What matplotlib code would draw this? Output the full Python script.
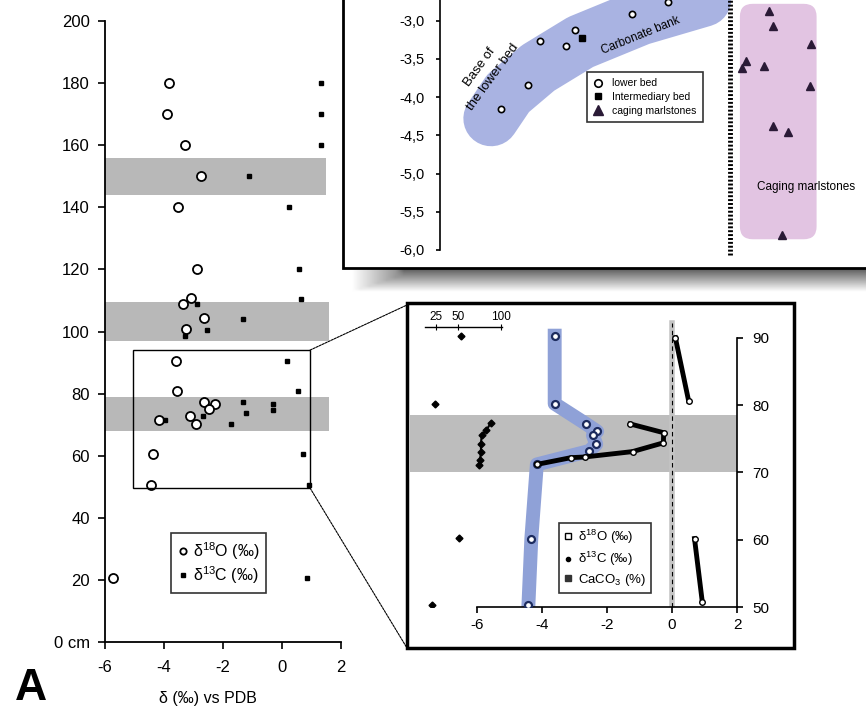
import numpy as np
import matplotlib.pyplot as plt
from matplotlib.patches import Rectangle, FancyBboxPatch, ConnectionPatch, PathPatch
from matplotlib.path import Path
from matplotlib.lines import Line2D

plt.rcParams['font.family'] = ['Liberation Sans', 'DejaVu Sans']
plt.rcParams['mathtext.fontset'] = 'custom'
plt.rcParams['mathtext.rm'] = 'Liberation Sans'
plt.rcParams['mathtext.it'] = 'Liberation Sans:italic'

W, H = 866, 713

# ---- panel A: whole profile ----
o18_depth = [180, 170, 160, 150, 140, 120, 110.8, 108.8, 104.3, 100.8, 90.6, 80.8,
             77.2, 76.6, 75.0, 72.8, 70.2, 71.5, 60.4, 50.6, 20.6]
o18_val = [-3.82, -3.89, -3.29, -2.75, -3.54, -2.87, -3.10, -3.37, -2.66, -3.25, -3.60, -3.55,
           -2.64, -2.27, -2.46, -3.12, -2.92, -4.16, -4.36, -4.44, -5.74]
c13_depth = [180, 170, 160, 150, 140, 120, 110.5, 108.8, 104.0, 100.6, 98.6, 90.6, 80.8,
             77.4, 73.6, 76.6, 74.8, 72.8, 70.2, 71.5, 60.4, 50.6, 20.6]
c13_val = [1.32, 1.32, 1.32, -1.11, 0.25, 0.59, 0.66, -2.87, -1.31, -2.54, -3.28, 0.18, 0.55,
           -1.32, -1.22, -0.29, -0.30, -2.67, -1.72, -3.95, 0.72, 0.93, 0.86]
band_lo = [144, 97, 68]
band_hi = [156, 109.5, 79]
band_right = [1.5, 1.6, 1.6]
zoom_box = (-5.05, 49.6, 0.95, 94.0)  # x0, y0, x1, y1

# ---- upper inset: d18O vs position ----
lower_x = [1.43, 2.07, 2.35, 2.95, 3.17, 4.51, 5.36]
lower_y = [-4.16, -3.84, -3.27, -3.33, -3.12, -2.91, -2.76]
inter_x = [3.33]
inter_y = [-3.23]
cag_x = [7.73, 7.81, 8.70, 7.18, 7.10, 7.61, 8.69, 7.81, 8.16, 8.02]
cag_y = [-2.87, -3.07, -3.30, -3.53, -3.62, -3.59, -3.85, -4.38, -4.46, -5.80]
trend_x = [1.2, 1.6, 2.3, 3.3, 4.7, 6.9]
trend_y = [-4.28, -3.95, -3.62, -3.28, -2.96, -2.60]
boundary_x = 6.81
cag_zone = (7.04, -5.86, 8.84, -2.78)

# ---- lower inset: 50-90 cm detail ----
o18z_depth = [90.3, 80.2, 77.2, 76.1, 75.5, 74.2, 73.2, 71.2, 60.2, 50.3]
o18z_val = [-3.62, -3.62, -2.65, -2.31, -2.44, -2.34, -2.55, -4.17, -4.34, -4.43]
c13z_depth = [90.0, 80.6, np.nan, 77.2, 75.9, 74.4, 73.1, 72.3, 72.2, 71.2, np.nan, 60.2, 50.8]
c13z_val = [0.10, 0.51, np.nan, -1.29, -0.26, -0.27, -1.22, -2.70, -3.12, -4.17, np.nan, 0.69, 0.93]
caco3_depth = [90.2, 80.2, 77.3, 76.3, 75.5, 74.3, 73.1, 71.8, 71.1, 60.3, 50.3]
caco3_val = [53, 23, 88, 83, 77.5, 76.7, 76.7, 75.6, 74.8, 51.5, 19.4]
bandz = (70.0, 78.5)


def px_box(x0, y0, x1, y1):
    return [x0 / W, 1 - y1 / H, (x1 - x0) / W, (y1 - y0) / H]


fig = plt.figure(figsize=(8.66, 7.13), dpi=100)

# overlay in pixel units for frames and shadows
ov = fig.add_axes([0, 0, 1, 1], zorder=0)
ov.set_xlim(0, W)
ov.set_ylim(H, 0)
ov.axis('off')
shade = np.linspace(0.35, 1.0, 30)[:, None] * np.ones((1, 60))
shade[:, :6] = np.maximum(shade[:, :6], np.linspace(1.0, 0.6, 6)[None, :])
ov.imshow(shade, extent=[348, 866, 292, 268], cmap='gray', vmin=0, vmax=1,
          aspect='auto', interpolation='bilinear', zorder=0)
ov.add_patch(Rectangle((343, -10), 600, 278, facecolor='white', edgecolor='black', lw=2, zorder=1))
ov.add_patch(Rectangle((407, 303), 387, 345, facecolor='white', edgecolor='black', lw=2.5, zorder=1))

# ---- panel A ----
ax = fig.add_axes(px_box(105, 21, 341, 642), zorder=2)
ax.set_facecolor('none')
ax.set_xlim(-6, 2)
ax.set_ylim(0, 200)
for lo, hi, xr in zip(band_lo, band_hi, band_right):
    ax.fill_between([-6, xr], lo, hi, color='#b8b8b8', lw=0, zorder=0)
ax.plot(o18_val, o18_depth, 'o', ms=6.5, mfc='white', mec='black', mew=1.3, ls='none',
        label='δ$^{18}$O (‰)', zorder=3)
ax.plot(c13_val, c13_depth, 's', ms=3.5, color='black', ls='none',
        label='δ$^{13}$C (‰)', zorder=4)
ax.add_patch(Rectangle((zoom_box[0], zoom_box[1]), zoom_box[2] - zoom_box[0],
                       zoom_box[3] - zoom_box[1], fill=False, ec='black', lw=1, zorder=5))
for s in ['top', 'right']:
    ax.spines[s].set_visible(False)
ax.spines['left'].set_linewidth(1.3)
ax.spines['bottom'].set_linewidth(1.3)
ax.set_xticks([-6, -4, -2, 0, 2])
ax.set_xticklabels(['-6', '-4', '-2', '0', '2'])
ax.set_yticks(range(0, 201, 20))
ax.set_yticklabels(['0 cm'] + [str(v) for v in range(20, 201, 20)])
ax.tick_params(axis='both', labelsize=12, length=5, width=1.2)
ax.tick_params(axis='x', pad=8)
ax.tick_params(axis='y', pad=6)
leg = ax.legend(loc='lower left', bbox_to_anchor=(0.28, 0.079), fontsize=11.5, frameon=True,
                fancybox=False, edgecolor='black', handlelength=0.6, handletextpad=0.3,
                borderpad=0.45, labelspacing=0.15, markerscale=0.7, borderaxespad=0)
leg.get_frame().set_linewidth(1.2)
fig.text(208 / W, 1 - 698 / H, 'δ (‰) vs PDB', ha='center', va='center', fontsize=11.5)
fig.text(31 / W, 1 - 688 / H, 'A', ha='center', va='center', fontsize=32, fontweight='bold')

# ---- upper inset ----
at = fig.add_axes(px_box(440, 0, 866, 268), zorder=2)
at.set_facecolor('none')
at.set_xlim(0, 10)
at.set_ylim(-6.236, -2.73)
verts = list(zip(trend_x, trend_y))
codes = [Path.MOVETO] + [Path.LINETO] * (len(verts) - 1)
at.add_patch(PathPatch(Path(verts, codes), fill=False, ec='#a9b3e2', lw=40,
                       capstyle='round', joinstyle='round', zorder=1))
at.add_patch(FancyBboxPatch((cag_zone[0], cag_zone[1]), cag_zone[2] - cag_zone[0],
                            cag_zone[3] - cag_zone[1],
                            boxstyle='round,pad=0,rounding_size=0.3', mutation_aspect=0.55,
                            fc='#e2c4e2', ec='none', zorder=1))
at.plot([boundary_x, boundary_x], [-6.07, -2.73], color='black', lw=3.5,
        dashes=(0.4, 0.4), zorder=2)
at.plot(lower_x, lower_y, 'o', ms=4.5, mfc='white', mec='black', mew=1.2, ls='none',
        label='lower bed', zorder=3)
at.plot(inter_x, inter_y, 's', ms=4, color='black', ls='none', label='Intermediary bed', zorder=3)
at.plot(cag_x, cag_y, '^', ms=5.5, color='#2a1a36', ls='none', label='caging marlstones', zorder=3)
for s in ['top', 'right', 'bottom']:
    at.spines[s].set_visible(False)
at.spines['left'].set_bounds(-6.0, -2.73)
at.spines['left'].set_linewidth(1.2)
at.set_xticks([])
yt = [-6.0, -5.5, -5.0, -4.5, -4.0, -3.5, -3.0]
at.set_yticks(yt)
at.set_yticklabels([f'{v:.1f}'.replace('.', ',') for v in yt])
at.tick_params(axis='y', labelsize=10.5, length=3, width=1.2, pad=8)
at.text(1.08, -3.67, 'Base of\nthe lower bed', rotation=54, ha='center', va='center',
        fontsize=9.5, linespacing=1.5, rotation_mode='anchor')
at.text(4.72, -3.19, 'Carbonate bank', rotation=22, ha='center', va='center', fontsize=8.5,
        rotation_mode='anchor')
at.text(7.43, -5.17, 'Caging marlstones', ha='left', va='center', fontsize=8.5)
lt = at.legend(loc='lower left', bbox_to_anchor=(0.345, 0.545), fontsize=7.5, frameon=True,
               fancybox=False, edgecolor='black', handlelength=1.0, handletextpad=0.8,
               borderpad=0.6, labelspacing=0.35, borderaxespad=0, markerscale=1.2)
lt.get_frame().set_linewidth(1.2)

# ---- lower inset ----
ab = fig.add_axes(px_box(410, 305, 737, 607.3), zorder=2)
ab.set_facecolor('none')
ab.set_xlim(-8.08, 2.0)
ab.set_ylim(50, 94.85)
ab.fill_between([-8.08, 2.0], bandz[0], bandz[1], color='#bdbdbd', lw=0, zorder=0)
ab.axvline(0, ymin=-0.02, ymax=(92.2 - 50) / 44.85, color='#c4c4c4', lw=4, zorder=1)
ab.axvline(0, ymin=0, ymax=(92.2 - 50) / 44.85, color='black', lw=0.8, dashes=(4, 3), zorder=1)
ab.plot(o18z_val, o18z_depth, color='#8fa1d7', lw=10, solid_capstyle='projecting',
        solid_joinstyle='round', zorder=2)
ab.plot(o18z_val, o18z_depth, 'o', ms=5, mfc='white', mec='#1c2b5e', mew=1.6, ls='none', zorder=3)
ab.plot(c13z_val, c13z_depth, color='black', lw=3.5, zorder=3)
ab.plot(c13z_val, c13z_depth, 'o', ms=4, mfc='white', mec='black', mew=1, ls='none', zorder=4)
for s in ['top', 'left']:
    ab.spines[s].set_visible(False)
ab.spines['bottom'].set_bounds(-6, 2)
ab.spines['right'].set_bounds(50, 90)
ab.spines['bottom'].set_linewidth(1.2)
ab.spines['right'].set_linewidth(1.2)
ab.set_xticks([-6, -4, -2, 0, 2])
ab.set_xticklabels(['-6', '-4', '-2', '0', '2'])
ab.yaxis.tick_right()
ab.set_yticks([50, 60, 70, 80, 90])
ab.tick_params(axis='both', labelsize=11, length=4, width=1.2)
ab.tick_params(axis='y', pad=7)

ac = ab.twiny()
ac.set_facecolor('none')
ac.set_xlim(-5.8, 374.4)
ac.plot(caco3_val, caco3_depth, 'D', ms=3.5, color='black', ls='none', zorder=4)
ac.plot(caco3_val[2:9], caco3_depth[2:9], color='black', lw=1.5, zorder=4)
for s in ['bottom', 'left', 'right']:
    ac.spines[s].set_visible(False)
ac.spines['top'].set_position(('axes', 0.928))
ac.spines['top'].set_bounds(12, 101)
ac.spines['top'].set_linewidth(1)
ac.set_xticks([25, 50, 100])
ac.tick_params(axis='x', top=True, labeltop=True, bottom=False, labelbottom=False,
               direction='inout', length=5, labelsize=8.5, pad=0)
ac.tick_params(axis='y', left=False, right=False, labelleft=False, labelright=False)

hb = [Line2D([], [], marker='s', ms=5, mfc='white', mec='black', ls='none'),
      Line2D([], [], marker='o', ms=3, color='black', ls='none'),
      Line2D([], [], marker='s', ms=5, color='#333333', ls='none')]
lb = ab.legend(hb, ['δ$^{18}$O (‰)', 'δ$^{13}$C (‰)', 'CaCO$_3$ (%)'], loc='lower left',
               bbox_to_anchor=(0.456, 0.046), fontsize=9.5, frameon=True, fancybox=False,
               edgecolor='black', handlelength=0.6, handletextpad=0.4, borderpad=0.4,
               labelspacing=0.3, borderaxespad=0)
lb.get_frame().set_linewidth(1.2)

# zoom connectors
for yy, ty in [(zoom_box[3], 305), (zoom_box[1], 648)]:
    con = ConnectionPatch(xyA=(zoom_box[2], yy), coordsA=ax.transData,
                          xyB=(407, ty), coordsB=ov.transData, color='black', lw=0.8,
                          linestyle=(0, (2, 1)))
    fig.add_artist(con)

fig.savefig('out.png', dpi=100)
